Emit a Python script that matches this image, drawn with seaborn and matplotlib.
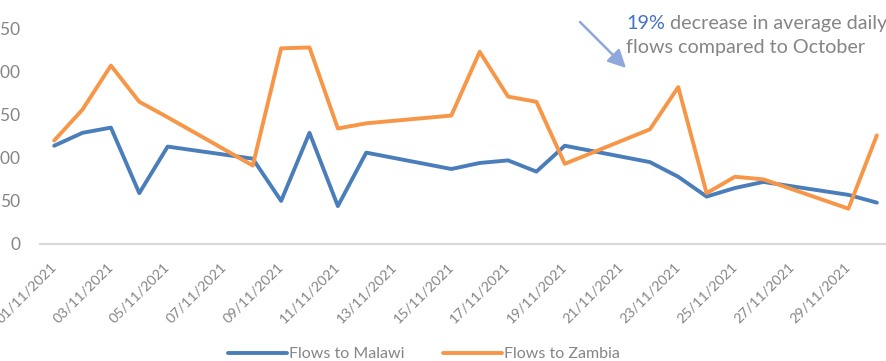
import matplotlib
matplotlib.use("Agg")
import matplotlib.pyplot as plt
import matplotlib.dates as mdates
import pandas as pd
import seaborn as sns

# Daily flows, weekdays of November 2021
dates = ["2021-11-01", "2021-11-02", "2021-11-03", "2021-11-04", "2021-11-05",
         "2021-11-08", "2021-11-09", "2021-11-10", "2021-11-11", "2021-11-12",
         "2021-11-15", "2021-11-16", "2021-11-17", "2021-11-18", "2021-11-19",
         "2021-11-22", "2021-11-23", "2021-11-24", "2021-11-25", "2021-11-26",
         "2021-11-29", "2021-11-30"]
malawi = [114, 129, 135, 59, 113,
          99, 50, 129, 44, 106,
          87, 94, 97, 84, 114,
          95, 78, 55, 65, 72,
          57, 48]
zambia = [120, 156, 207, 165, 147,
          91, 227, 228, 134, 140,
          149, 223, 171, 165, 93,
          133, 182, 59, 78, 75,
          41, 126]
series_names = ["Flows to Malawi", "Flows to Zambia"]
colors = ["#4A7EBB", "#F79646"]
y_ticks = [0, 50, 100, 150, 200, 250]

df = pd.DataFrame({"date": pd.to_datetime(dates),
                   series_names[0]: malawi, series_names[1]: zambia})
long = df.melt(id_vars="date", var_name="series", value_name="flow")

sns.set_theme(style="white")
plt.rcParams["font.family"] = ["Lato", "DejaVu Sans"]
text_gray = "#858585"

W, H = 887, 361
fig = plt.figure(figsize=(W / 100, H / 100), dpi=100)
ax = fig.add_axes([40 / W, 1 - 244 / H, 851 / W, (244 - 28.5) / H])

sns.lineplot(data=long, x="date", y="flow", hue="series", palette=colors,
             linewidth=2.8, ax=ax, legend=False, sort=True)

ax.set_ylim(0, 250)
ax.set_yticks(y_ticks)
ax.set_xlim(pd.Timestamp("2021-11-01") - pd.Timedelta(hours=12),
            pd.Timestamp("2021-11-30") + pd.Timedelta(hours=12))
ax.xaxis.set_major_locator(mdates.DayLocator(bymonthday=range(1, 31, 2)))
ax.xaxis.set_major_formatter(mdates.DateFormatter("%d/%m/%Y"))
ax.set_xlabel("")
ax.set_ylabel("")

for side in ["top", "right", "left"]:
    ax.spines[side].set_visible(False)
ax.spines["bottom"].set_color("#D9D9D9")
ax.spines["bottom"].set_linewidth(1.5)
ax.tick_params(axis="both", length=0, colors=text_gray)
ax.tick_params(axis="y", pad=14, labelsize=12.5)
ax.tick_params(axis="x", pad=15, labelsize=10.3)
for lbl in ax.get_xticklabels():
    lbl.set_rotation(45)
    lbl.set_ha("right")
    lbl.set_va("center")
    lbl.set_rotation_mode("anchor")

# Legend below the axis
handles = [plt.Line2D([], [], color=c, lw=2.8) for c in colors]
fig.legend(handles, series_names, loc="center", bbox_to_anchor=(424 / W, 1 - 354 / H),
           ncol=2, frameon=False, fontsize=11.5, labelcolor=text_gray,
           handlelength=3.7, handletextpad=0.15, columnspacing=2.4)

# Callout
fs = 14.2
t1 = fig.text(626 / W, 1 - 29 / H, "19%", color="#4472C4", fontsize=fs, va="baseline")
ax.annotate(" decrease in average daily", xy=(1, 0), xycoords=t1,
            color=text_gray, fontsize=fs, va="bottom", ha="left")
fig.text(626 / W, 1 - 53 / H, "flows compared to October", color=text_gray,
         fontsize=fs, va="baseline")
ax.annotate("", xy=(628 / W, 1 - 70 / H), xycoords="figure fraction",
            xytext=(578 / W, 1 - 20 / H), textcoords="figure fraction",
            arrowprops=dict(arrowstyle="-|>,head_length=0.9,head_width=0.45",
                            color="#8FA7DA", lw=1.8))

fig.savefig("out.png", dpi=100)
